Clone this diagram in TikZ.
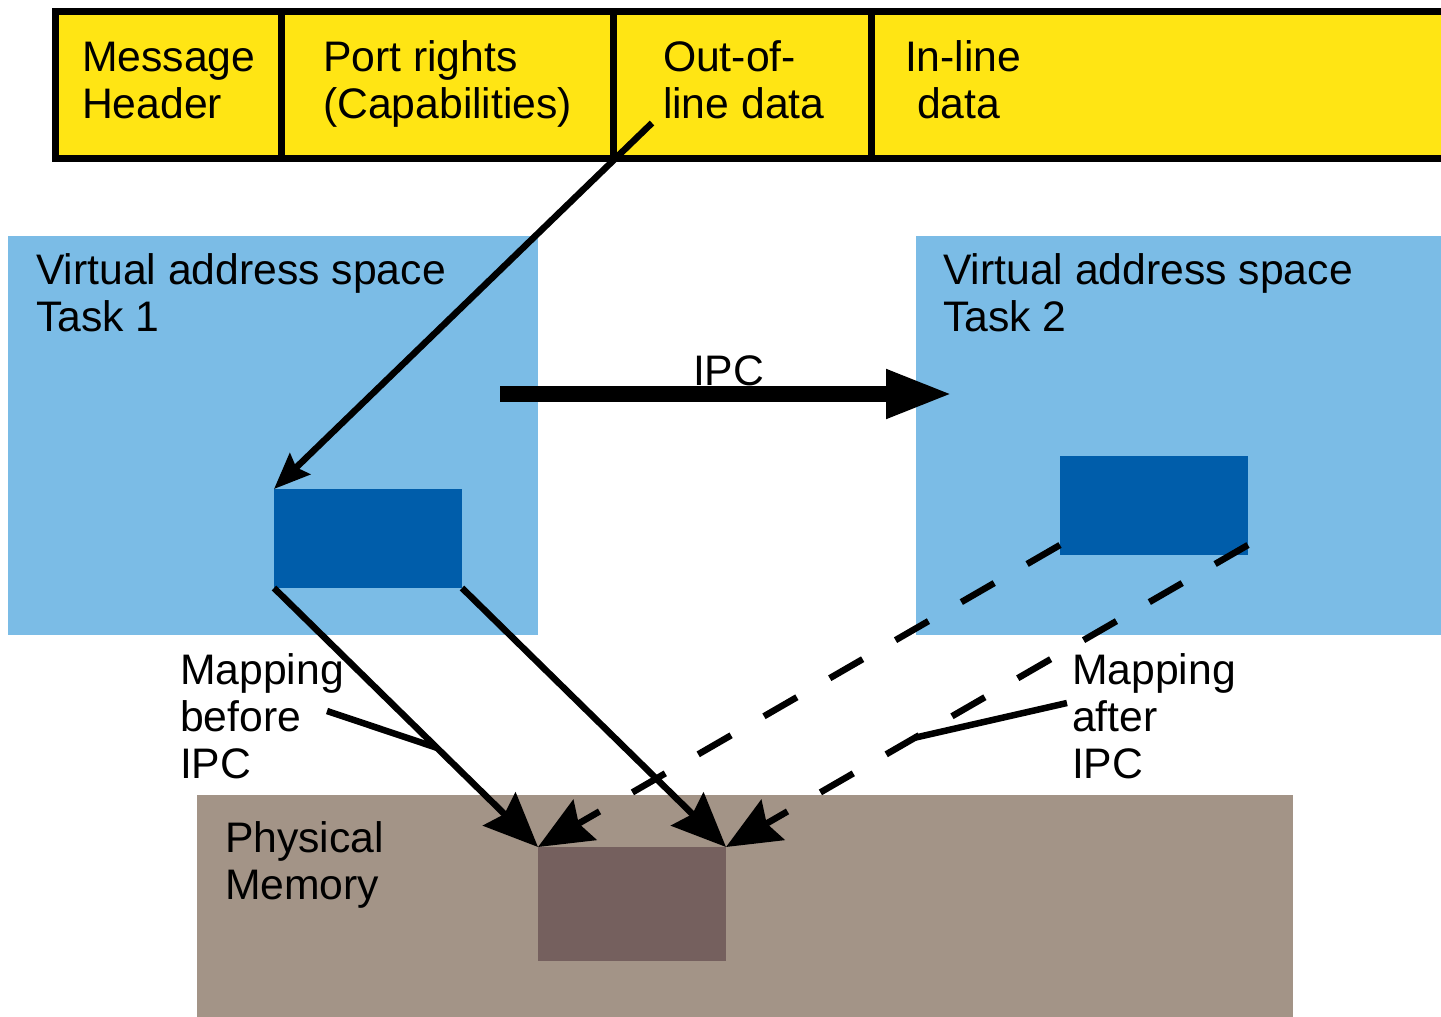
\documentclass[tikz,border=0pt]{standalone}
\usepackage{fontspec}
\setmainfont{Liberation Sans}
\usetikzlibrary{arrows.meta,calc}
\definecolor{msgyellow}{RGB}{255,229,20}
\definecolor{vasblue}{RGB}{123,188,230}
\definecolor{regblue}{RGB}{0,93,170}
\definecolor{physgrey}{RGB}{163,148,135}
\definecolor{framebrown}{RGB}{117,96,94}
\begin{document}
\begin{tikzpicture}[x=1pt,y=-1pt,
  area/.style={draw=none,inner sep=0pt,outer sep=0pt,anchor=north west},
  cell/.style={draw=black,line width=7pt,fill=msgyellow,inner sep=0pt,outer sep=0pt,
    anchor=north west,minimum height=147pt},
  % multi-line labels are placed by the baseline of their last line
  txt/.style={inner sep=0pt,outer sep=0pt,anchor=base west,align=left,
    font=\fontsize{42.7}{47}\selectfont},
  link/.style={line width=6.5pt},
  bighead/.style={-{Stealth[length=54pt,width=46pt,inset=7pt]}},
  smallhead/.style={-{Stealth[length=36pt,width=29pt,inset=5pt]}},
  dashedlink/.style={link,dash pattern=on 38pt off 38pt}]
\useasboundingbox (0,0) rectangle (1441,1017);
\clip (0,0) rectangle (1441,1017);

% address spaces, regions and physical memory
\node[area,fill=vasblue,minimum width=530pt,minimum height=399pt] (vas1) at (8,236) {};
\node[area,fill=vasblue,minimum width=540pt,minimum height=399pt] (vas2) at (916,236) {};
\node[area,fill=regblue,minimum width=188pt,minimum height=99pt] (reg1) at (274,489) {};
\node[area,fill=regblue,minimum width=188pt,minimum height=99pt] (reg2) at (1060,456) {};
\node[area,fill=physgrey,minimum width=1096pt,minimum height=230pt] (phys) at (197,795) {};
\node[area,fill=framebrown,minimum width=188pt,minimum height=114pt] (frame) at (538,847) {};

% message layout
\node[cell,minimum width=226pt] (hdr) at (55,11) {};
\node[cell,minimum width=332pt] (ports) at (281,11) {};
\node[cell,minimum width=258pt] (ool) at (613,11) {};
\node[cell,minimum width=600pt] (inl) at (871,11) {};

% labels
\node[txt] (thdr) at (82,118) {Message\\Header};
\node[txt] (tports) at (323,118) {Port rights\\(Capabilities)};
\node[txt] (tool) at (663,118) {Out-of-\\line data};
\node[txt] (tinl) at (905,118) {In-line\\\hspace*{12pt}data};
\node[txt] (tvas1) at (36,331) {Virtual address space\\Task 1};
\node[txt] (tvas2) at (943,331) {Virtual address space\\Task 2};
\node[txt] (tipc) at (693,385) {IPC};
\node[txt] (tbefore) at (180,778) {Mapping\\before\\IPC};
\node[txt] (tafter) at (1072,778) {Mapping\\after\\IPC};
\node[txt] (tphys) at (225,899) {Physical\\Memory};

% connectors
\coordinate (oolstart) at (652,123);
\draw[link,smallhead] (oolstart) -- (reg1.north west);

\coordinate (ipcA) at (500,394);
\coordinate (ipcB) at (953,394);
\draw[line width=16pt,-{Triangle[length=67pt,width=45pt]}] (ipcA) -- (ipcB);

\draw[link,bighead] (reg1.south west) -- (frame.north west);
\draw[link,bighead] (reg1.south east) -- (frame.north east);
\draw[dashedlink,bighead] ([yshift=10pt]reg2.south west) -- (frame.north west);
\draw[dashedlink,bighead] ([yshift=10pt]reg2.south east) -- (frame.north east);

% label leaders
\coordinate (lbefore) at (327,711);
\coordinate (lafter) at (1067,703);
\draw[link] (lbefore) -- ($(reg1.south west)!0.617!(frame.north west)$);
\draw[link] (lafter) -- ($([yshift=10pt]reg2.south east)!0.638!(frame.north east)$);
\end{tikzpicture}
\end{document}
